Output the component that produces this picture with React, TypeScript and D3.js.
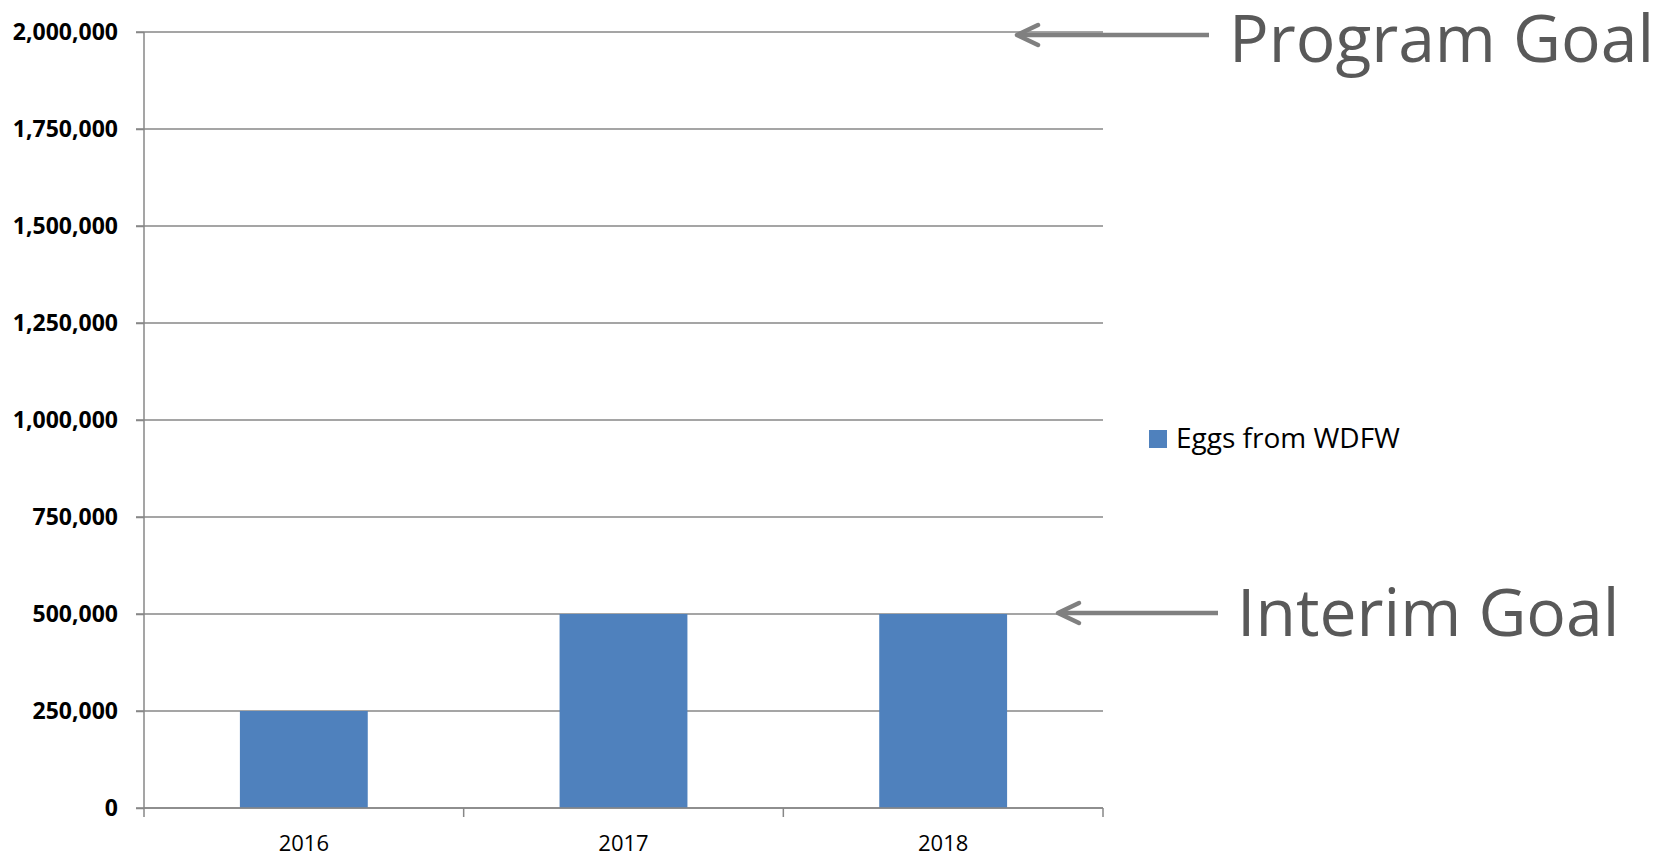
import { useEffect, useRef } from "react";
import * as d3 from "d3";

// Chart data
const years = ["2016", "2017", "2018"];
const eggs = [250000, 500000, 500000];
const yTicks = [0, 250000, 500000, 750000, 1000000, 1250000, 1500000, 1750000, 2000000];
const seriesName = "Eggs from WDFW";
const goalLabels = ["Program Goal", "Interim Goal"];
const goalValues = [2000000, 500000];

const WIDTH = 1673;
const HEIGHT = 856;

export default function App() {
	const ref = useRef<SVGSVGElement>(null);

	useEffect(() => {
		const svg = d3.select(ref.current);
		svg.selectAll("*").remove();

		const margin = { top: 32, left: 144 };
		const plotW = 959;
		const plotH = 776;
		const gridColor = "#878787";

		const g = svg.append("g")
			.attr("transform", `translate(${margin.left},${margin.top})`);

		const x = d3.scaleBand<string>()
			.domain(years)
			.range([0, plotW])
			.paddingInner(0.6)
			.paddingOuter(0.3);

		const y = d3.scaleLinear()
			.domain([0, 2000000])
			.range([plotH, 0]);

		// Gridlines
		g.append("g")
			.selectAll("line")
			.data(yTicks)
			.enter()
			.append("line")
			.attr("x1", -8)
			.attr("x2", plotW)
			.attr("y1", d => y(d))
			.attr("y2", d => y(d))
			.attr("stroke", gridColor)
			.attr("stroke-width", 1.5);

		// Bars
		g.append("g")
			.selectAll("rect")
			.data(years)
			.enter()
			.append("rect")
			.attr("x", d => x(d)!)
			.attr("width", x.bandwidth())
			.attr("y", (_, i) => y(eggs[i]))
			.attr("height", (_, i) => plotH - y(eggs[i]))
			.attr("fill", "#4F81BD");

		// Y axis
		const yAxis = g.append("g")
			.call(
				d3.axisLeft(y)
					.tickValues(yTicks)
					.tickSize(8)
					.tickPadding(18)
					.tickFormat(d3.format(","))
			);
		yAxis.select(".domain").attr("stroke", gridColor).attr("stroke-width", 1.5)
			.attr("d", `M0,0V${plotH}`);
		yAxis.selectAll(".tick line").attr("stroke", gridColor).attr("stroke-width", 1.5);
		yAxis.selectAll(".tick text")
			.attr("font-family", "Open Sans")
			.attr("font-size", "23px")
			.attr("font-weight", "bold")
			.attr("fill", "#000");

		// X axis (ticks at category boundaries)
		const xAxisG = g.append("g")
			.attr("transform", `translate(0,${plotH})`);
		xAxisG.append("line")
			.attr("x1", 0)
			.attr("x2", plotW)
			.attr("stroke", gridColor)
			.attr("stroke-width", 1.5);
		const step = x.step();
		xAxisG.selectAll(".bound")
			.data(d3.range(years.length + 1))
			.enter()
			.append("line")
			.attr("x1", i => i * step)
			.attr("x2", i => i * step)
			.attr("y1", 0)
			.attr("y2", 9)
			.attr("stroke", gridColor)
			.attr("stroke-width", 1.5);
		xAxisG.selectAll(".lbl")
			.data(years)
			.enter()
			.append("text")
			.attr("x", d => x(d)! + x.bandwidth() / 2)
			.attr("y", 43)
			.attr("text-anchor", "middle")
			.attr("font-family", "Open Sans")
			.attr("font-size", "22px")
			.attr("fill", "#000")
			.text(d => d);

		// Legend
		const legend = svg.append("g").attr("transform", "translate(1149,430)");
		legend.append("rect")
			.attr("width", 18)
			.attr("height", 18)
			.attr("fill", "#4F81BD");
		legend.append("text")
			.attr("x", 27)
			.attr("y", 18)
			.attr("font-family", "Open Sans")
			.attr("font-size", "28px")
			.attr("fill", "#000")
			.text(seriesName);

		// Goal annotations: arrows pointing at the goal gridlines
		const arrowStart = [1017, 1058];
		const arrowEnd = [1209, 1218];
		const arrowDy = [3, -1];
		const labelX = [1229, 1237];
		const labelDy = [27, 23];

		goalLabels.forEach((label, i) => {
			const ay = margin.top + y(goalValues[i]) + arrowDy[i];
			const ann = svg.append("g");
			ann.append("line")
				.attr("x1", arrowStart[i] + 2)
				.attr("x2", arrowEnd[i])
				.attr("y1", ay)
				.attr("y2", ay)
				.attr("stroke", "#808080")
				.attr("stroke-width", 4.5);
			ann.append("path")
				.attr("d", `M${arrowStart[i] + 21},${ay - 10}L${arrowStart[i]},${ay}L${arrowStart[i] + 21},${ay + 10}`)
				.attr("fill", "none")
				.attr("stroke", "#808080")
				.attr("stroke-width", 4.5)
				.attr("stroke-linecap", "round")
				.attr("stroke-linejoin", "round");
			ann.append("text")
				.attr("x", labelX[i])
				.attr("y", ay + labelDy[i])
				.attr("font-family", "Open Sans")
				.attr("font-size", "66px")
				.attr("fill", "#595959")
				.text(label);
		});
	}, []);

	return (
		<svg
			ref={ref}
			width={WIDTH}
			height={HEIGHT}
			style={{ position: "absolute", left: 0, top: 0, background: "#fff" }}
		/>
	);
}
